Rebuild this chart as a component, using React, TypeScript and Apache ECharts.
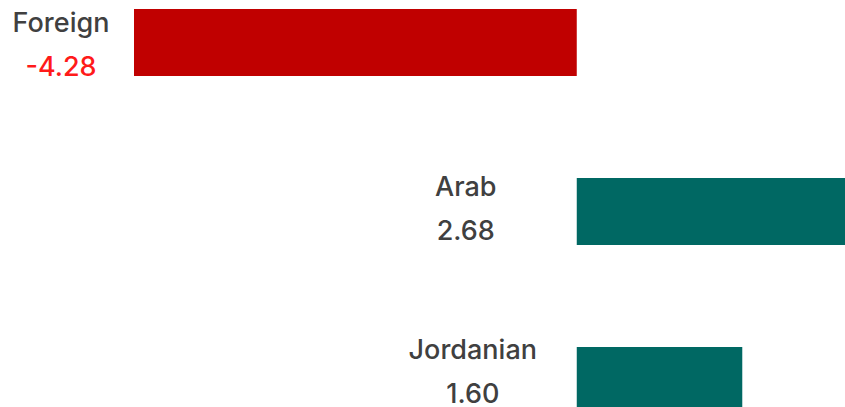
import React, { useEffect, useRef } from "react";
import * as echarts from "echarts";

const categories = ["Foreign", "Arab", "Jordanian"];
const values = [-4.28, 2.68, 1.6];
const labelDistances = [73, 111, 104];
const labelOffsetsY = [2, -3, -9];

const FONT = "Inter";

export default function App() {
  const ref = useRef<HTMLDivElement>(null);
  useEffect(() => {
    if (!ref.current) return;
    const chart = echarts.init(ref.current, undefined, { renderer: "svg" });
    chart.setOption({
      animation: false,
      grid: {
        left: 134,
        top: -42,
        width: 720,
        height: 507,
        containLabel: false,
        outerBoundsMode: "none",
      },
      xAxis: {
        type: "value",
        min: -4.28,
        max: 2.68,
        show: false,
        splitLine: { show: false },
      },
      yAxis: {
        type: "category",
        data: categories,
        inverse: true,
        show: false,
      },
      series: [
        {
          type: "bar",
          barWidth: 67,
          clip: false,
          data: values.map((v, i) => ({
            value: v,
            itemStyle: { color: v < 0 ? "#c00000" : "#006863" },
            label: {
              show: true,
              position: "left",
              distance: labelDistances[i],
              offset: [0, labelOffsetsY[i]],
              align: "center",
              verticalAlign: "middle",
              fontFamily: FONT,
              formatter: (p: any) => `{n|${p.name}}\n{${v < 0 ? "r" : "v"}|${Number(p.value).toFixed(2)}}`,
              rich: {
                n: { fontSize: 27, fontWeight: 500, color: "#404040", lineHeight: 44, fontFamily: FONT, align: "center" },
                v: { fontSize: 27, fontWeight: 500, color: "#404040", lineHeight: 44, fontFamily: FONT, align: "center" },
                r: { fontSize: 27, fontWeight: 500, color: "#ff1a1a", lineHeight: 44, fontFamily: FONT, align: "center" },
              },
            },
          })),
        },
      ],
    });
    return () => chart.dispose();
  }, []);
  return (
    <div
      ref={ref}
      style={{ position: "fixed", left: 0, top: 0, width: 845, height: 407, background: "#ffffff" }}
    />
  );
}
